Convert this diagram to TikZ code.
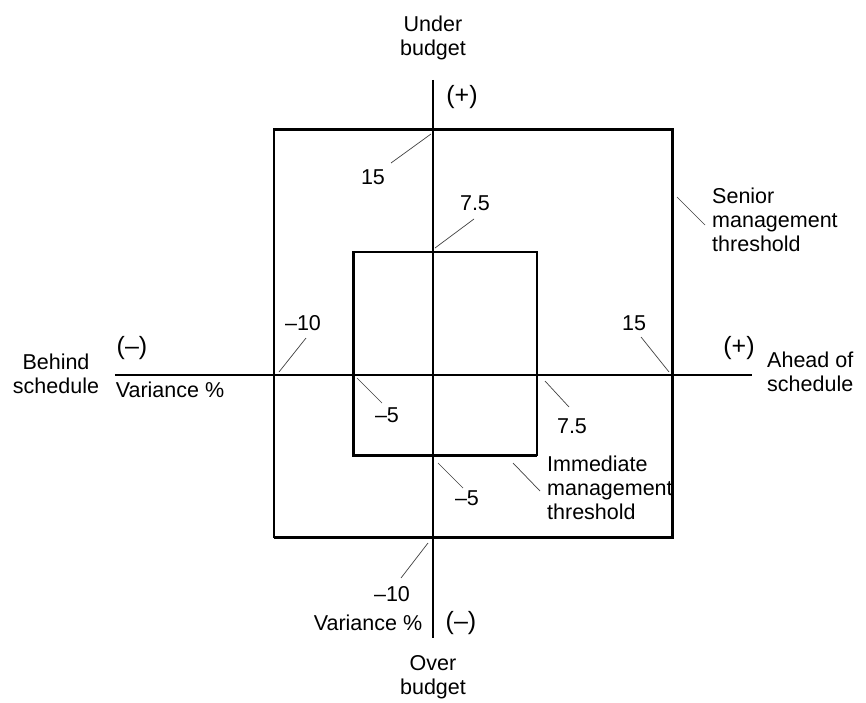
\documentclass[tikz,border=0pt]{standalone}
\usepackage{fontspec}
\setmainfont{Liberation Sans}
\usetikzlibrary{positioning}

\tikzset{
  axisline/.style={line width=1.3pt},
  heavyline/.style={line width=3pt},
  leader/.style={line width=0.7pt, black!75},
  lbl/.style={inner sep=0pt, font=\fontsize{21.5}{24}\selectfont},
  sign/.style={inner sep=0pt, font=\fontsize{25}{28}\selectfont},
}

\begin{document}
\begin{tikzpicture}[x=1pt,y=1pt]
  \useasboundingbox (-433,-327) rectangle (433,375);

  % axes
  \coordinate (w) at (-318,0);
  \coordinate (e) at (319,0);
  \coordinate (n) at (0,295);
  \coordinate (s) at (0,-263);
  \draw[axisline] (w) -- (e);
  \draw[axisline] (n) -- (s);

  % senior threshold box
  \draw[axisline] (-159,-162) rectangle (239,246);
  \draw[heavyline] (-159,246) -- (239,246) -- (239,-162) -- (-159,-162);

  % immediate threshold box
  \draw[axisline] (-80,-80) rectangle (104,123);
  \draw[heavyline] (-80,123) -- (-80,-80) -- (104,-80);

  %% axis labels

  \node[lbl, align=center] (under) at (0,337) {Under\\budget};
  \node[sign] (uplus) at (29,278) {(+)};
  \node[lbl, align=center] (over) at (0,-302) {Over\\budget};
  \node[sign] (dminus) at (28,-248) {(--)};
  \node[lbl] (dvar) at (-65,-248) {Variance \%};

  \node[lbl, align=center] (behind) at (-377,1) {Behind\\schedule};
  \node[sign] (lminus) at (-301,27) {(--)};
  \node[lbl] (lvar) at (-263,-15) {Variance \%};
  \node[lbl, align=left, anchor=west] (ahead) at (334,3) {Ahead of\\schedule};
  \node[sign] (rplus) at (306,27) {(+)};

  %% values

  \node[lbl] (t15) at (-60,198) {15};
  \coordinate (t15a) at (-2,241);
  \coordinate (t15b) at (-42,212);
  \draw[leader] (t15a) -- (t15b);

  \node[lbl] (t75) at (42,172) {7.5};
  \coordinate (t75a) at (2,127);
  \coordinate (t75b) at (41,156);
  \draw[leader] (t75a) -- (t75b);

  \node[lbl] (l10) at (-130,52) {--10};
  \coordinate (l10a) at (-154,3);
  \coordinate (l10b) at (-127,37);
  \draw[leader] (l10a) -- (l10b);

  \node[lbl] (l5) at (-46,-40) {--5};
  \coordinate (l5a) at (-76,-3);
  \coordinate (l5b) at (-51,-28);
  \draw[leader] (l5a) -- (l5b);

  \node[lbl] (r15) at (201,52) {15};
  \coordinate (r15a) at (208,38);
  \coordinate (r15b) at (236,3);
  \draw[leader] (r15a) -- (r15b);

  \node[lbl] (r75) at (139,-51) {7.5};
  \coordinate (r75a) at (112,-6);
  \coordinate (r75b) at (136,-32);
  \draw[leader] (r75a) -- (r75b);

  \node[lbl] (b5) at (34,-123) {--5};
  \coordinate (b5a) at (5,-88);
  \coordinate (b5b) at (30,-113);
  \draw[leader] (b5a) -- (b5b);

  \node[lbl] (b10) at (-41,-219) {--10};
  \coordinate (b10a) at (-5,-168);
  \coordinate (b10b) at (-32,-203);
  \draw[leader] (b10a) -- (b10b);

  %% thresholds

  \node[lbl, align=left, anchor=west] (senior) at (279,155) {Senior\\management\\threshold};
  \coordinate (sena) at (244,178);
  \coordinate (senb) at (272,150);
  \draw[leader] (sena) -- (senb);

  \node[lbl, align=left, anchor=west] (immed) at (114,-113) {Immediate\\management\\threshold};
  \coordinate (imma) at (80,-88);
  \coordinate (immb) at (107,-116);
  \draw[leader] (imma) -- (immb);

\end{tikzpicture}
\end{document}
